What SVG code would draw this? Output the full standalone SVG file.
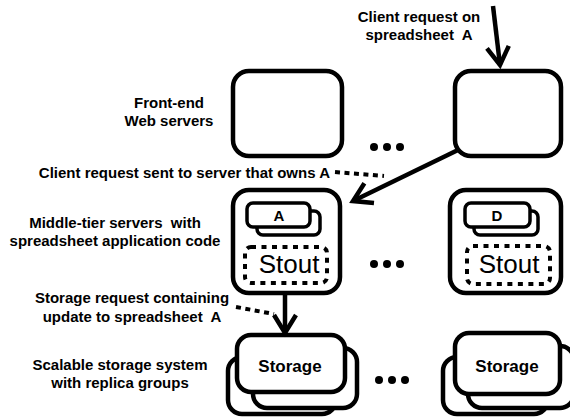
<svg xmlns="http://www.w3.org/2000/svg" width="570" height="417" viewBox="0 0 570 417">
<style>
.box{fill:#fff;stroke:#000;stroke-width:4.5}
.card{fill:#fff;stroke:#000;stroke-width:3.5}
.drect{fill:none;stroke:#000;stroke-width:4;stroke-dasharray:5 5.5}
.lbl{font-family:"Liberation Sans",Arial,sans-serif;font-weight:bold;font-size:15px;text-anchor:middle;fill:#000;white-space:pre}
.stout{font-family:"Liberation Sans",Arial,sans-serif;font-size:26px;text-anchor:middle;fill:#000}
.stor{font-family:"Liberation Sans",Arial,sans-serif;font-weight:bold;font-size:17px;text-anchor:middle;fill:#000}
.conn{fill:none;stroke:#000;stroke-width:4.5}
.dash{fill:none;stroke:#000;stroke-width:4;stroke-dasharray:5 4.5}
.dot{fill:#000}
</style>
<defs>
<marker id="ah" viewBox="0 0 24 26" refX="20" refY="13" markerWidth="24" markerHeight="26" markerUnits="userSpaceOnUse" orient="auto" overflow="visible">
<path d="M2,2 L20,13 L2,24" fill="none" stroke="#000" stroke-width="4.5" stroke-linejoin="miter" stroke-linecap="butt"/>
</marker>
</defs>
<rect width="570" height="417" fill="#fff"/>

<g id="labels">
<text class="lbl" x="419" y="22">Client request on</text>
<text class="lbl" x="419" y="40">spreadsheet  A</text>
<text class="lbl" x="169" y="108">Front-end</text>
<text class="lbl" x="169" y="126">Web servers</text>
<text class="lbl" x="330" y="178" style="text-anchor:end">Client request sent to server that owns A</text>
<text class="lbl" x="115" y="228">Middle-tier servers  with</text>
<text class="lbl" x="115" y="246">spreadsheet application code</text>
<text class="lbl" x="132" y="303">Storage request containing</text>
<text class="lbl" x="132" y="322">update to spreadsheet  A</text>
<text class="lbl" x="120" y="370">Scalable storage system</text>
<text class="lbl" x="120" y="388">with replica groups</text>
</g>

<g id="frontend-1"><rect class="box" x="233" y="71" width="109" height="85" rx="16"/></g>
<g id="frontend-2"><rect class="box" x="455" y="71" width="106" height="85" rx="16"/></g>
<g id="ellipsis-1"><circle class="dot" cx="374" cy="147" r="4"/><circle class="dot" cx="387" cy="147" r="4"/><circle class="dot" cx="400" cy="147" r="4"/></g>

<g id="middle-A">
<rect class="box" x="233" y="190" width="107" height="103" rx="16"/>
<rect class="card" x="257" y="211" width="63" height="24" rx="6"/>
<rect class="card" x="247" y="203" width="63" height="24" rx="6"/>
<text class="lbl" x="279" y="221">A</text>
<rect class="drect" x="245" y="247" width="82" height="36" rx="6"/>
<text class="stout" x="289" y="273">Stout</text>
</g>
<g id="middle-D">
<rect class="box" x="450" y="190" width="111" height="103" rx="16"/>
<rect class="card" x="474" y="211" width="64" height="24" rx="6"/>
<rect class="card" x="465" y="203" width="65" height="24" rx="6"/>
<text class="lbl" x="497" y="221">D</text>
<rect class="drect" x="467" y="246" width="83" height="38" rx="6"/>
<text class="stout" x="509" y="273">Stout</text>
</g>
<g id="ellipsis-2"><circle class="dot" cx="374" cy="264" r="4"/><circle class="dot" cx="387" cy="264" r="4"/><circle class="dot" cx="400" cy="264" r="4"/></g>

<g id="storage-A">
<rect class="box" x="228" y="357" width="108" height="57" rx="14"/>
<rect class="box" x="253" y="348" width="104" height="60" rx="14"/>
<rect class="box" x="237" y="335" width="108" height="57" rx="14"/>
<text class="stor" x="290" y="372">Storage</text>
</g>
<g id="storage-D">
<rect class="box" x="443" y="357" width="105" height="57" rx="14"/>
<rect class="box" x="468" y="346" width="106" height="62" rx="14"/>
<rect class="box" x="455" y="333" width="105" height="61" rx="14"/>
<text class="stor" x="507" y="372">Storage</text>
</g>
<g id="ellipsis-3"><circle class="dot" cx="379" cy="380" r="4"/><circle class="dot" cx="392" cy="380" r="4"/><circle class="dot" cx="405" cy="380" r="4"/></g>

<g id="connectors">
<line class="conn" x1="493" y1="6" x2="500" y2="65" marker-end="url(#ah)"/>
<line class="conn" x1="458" y1="150" x2="353" y2="201" marker-end="url(#ah)"/>
<line class="conn" x1="285" y1="293" x2="285" y2="333" marker-end="url(#ah)"/>
<line class="dash" x1="335" y1="172" x2="384" y2="176"/>
<line class="dash" x1="236" y1="307" x2="274" y2="314"/>
</g>
</svg>
